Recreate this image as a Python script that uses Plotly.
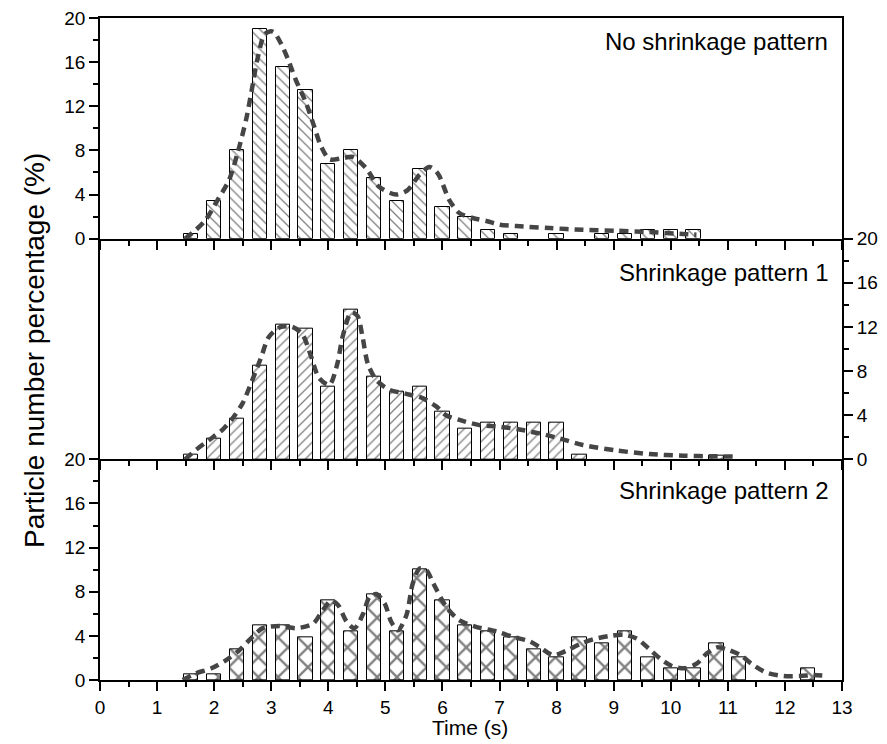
import plotly.graph_objects as go

# ---------------- data ----------------
panel_labels = ["No shrinkage pattern", "Shrinkage pattern 1", "Shrinkage pattern 2"]

t_none = [1.6, 2.0, 2.4, 2.8, 3.2, 3.6, 4.0, 4.4, 4.8, 5.2, 5.6, 6.0, 6.4, 6.8, 7.2,
          8.0, 8.8, 9.2, 9.6, 10.0, 10.4]
v_none = [0.4, 3.4, 8.0, 19.0, 15.6, 13.5, 6.8, 8.0, 5.5, 3.4, 6.3, 2.9, 2.0, 0.8, 0.4,
          0.4, 0.4, 0.4, 0.8, 0.8, 0.8]

t_p1 = [1.6, 2.0, 2.4, 2.8, 3.2, 3.6, 4.0, 4.4, 4.8, 5.2, 5.6, 6.0, 6.4, 6.8, 7.2,
        7.6, 8.0, 8.4, 10.8]
v_p1 = [0.4, 1.9, 3.7, 8.5, 12.2, 11.8, 6.6, 13.6, 7.5, 6.1, 6.6, 4.3, 2.8, 3.3, 3.3,
        3.3, 3.3, 0.4, 0.3]

t_p2 = [1.6, 2.0, 2.4, 2.8, 3.2, 3.6, 4.0, 4.4, 4.8, 5.2, 5.6, 6.0, 6.4, 6.8, 7.2,
        7.6, 8.0, 8.4, 8.8, 9.2, 9.6, 10.0, 10.4, 10.8, 11.2, 12.4]
v_p2 = [0.5, 0.5, 2.8, 5.0, 5.0, 3.9, 7.2, 4.4, 7.8, 4.4, 10.0, 7.2, 5.0, 4.4, 3.9,
        2.8, 2.1, 3.9, 3.3, 4.4, 2.1, 1.1, 1.1, 3.3, 2.1, 1.1]

# fitted (dashed) curves
cx_none = [1.49, 1.68, 1.85, 2.06, 2.26, 2.41, 2.56, 2.67, 2.76, 2.88, 2.99, 3.05, 3.17,
           3.29, 3.43, 3.61, 3.75, 3.87, 4.02, 4.25, 4.43, 4.66, 4.89, 5.19, 5.39, 5.6,
           5.77, 5.92, 6.12, 6.3, 6.53, 6.77, 7.0, 7.29, 7.88, 8.46, 9.05, 9.63, 10.22, 10.45]
cy_none = [0.0, 0.8, 1.7, 3.5, 5.3, 7.75, 10.8, 13.8, 16.3, 18.5, 18.8, 18.7, 17.7,
           16.3, 14.4, 12.3, 10.2, 8.4, 7.2, 7.3, 7.4, 6.4, 4.7, 4.0, 4.4, 5.8,
           6.5, 5.9, 3.5, 2.3, 1.87, 1.6, 1.27, 1.14, 0.96, 0.8, 0.72, 0.6, 0.42, 0.36]

cx_p1 = [1.49, 1.68, 1.91, 2.15, 2.32, 2.5, 2.67, 2.82, 2.96, 3.17, 3.37, 3.55, 3.7, 3.84,
         4.02, 4.16, 4.25, 4.4, 4.51, 4.6, 4.69, 4.84, 5.07, 5.35, 5.65, 5.89, 6.06, 6.3,
         6.65, 7.0, 7.35, 7.7, 8.05, 8.46, 9.05, 9.63, 10.22, 10.8, 11.18]
cy_p1 = [0.0, 0.85, 1.75, 2.7, 3.7, 5.1, 7.2, 9.2, 11.1, 12.0, 12.0, 11.3, 9.3, 7.35,
         6.75, 8.7, 11.1, 13.3, 13.0, 11.1, 8.7, 7.2, 6.3, 5.95, 5.55, 4.8, 4.0, 3.57,
         3.1, 2.96, 2.7, 2.35, 1.9, 1.3, 0.8, 0.48, 0.33, 0.27, 0.24]

cx_p2 = [1.45, 1.68, 1.95, 2.21, 2.44, 2.65, 2.85, 3.15, 3.44, 3.73, 3.9, 4.05, 4.17, 4.32,
         4.46, 4.61, 4.72, 4.84, 4.99, 5.1, 5.22, 5.37, 5.48, 5.6, 5.72, 5.84, 6.07, 6.3,
         6.6, 6.95, 7.24, 7.53, 7.71, 7.94, 8.17, 8.41, 8.64, 8.94, 9.17, 9.4, 9.61, 9.81,
         10.02, 10.25, 10.46, 10.63, 10.81, 10.98, 11.22, 11.42, 11.68, 11.98, 12.27, 12.5, 12.74]
cy_p2 = [0.0, 0.6, 1.06, 1.8, 2.7, 3.8, 4.7, 4.9, 4.7, 5.1, 6.3, 7.2, 6.8, 5.3,
         4.7, 6.0, 7.5, 7.8, 6.9, 5.3, 4.5, 5.9, 8.75, 10.1, 9.95, 8.75, 6.6, 5.4,
         4.8, 4.4, 3.9, 3.5, 2.95, 2.26, 2.65, 3.26, 3.68, 4.0, 4.1, 3.77, 2.87, 1.96,
         1.27, 1.06, 1.5, 2.4, 2.96, 2.78, 2.26, 1.45, 0.66, 0.36, 0.36, 0.45, 0.36]

x_ticks = list(range(0, 14))
y_ticks = [0, 4, 8, 12, 16, 20]

# ---------------- figure ----------------
FONT = "Liberation Sans, Arial, sans-serif"
CURVE = "#454545"
fig = go.Figure()

series = [
    (t_none, v_none, cx_none, cy_none, "\\", 7, 0.18, "x", "y"),
    (t_p1, v_p1, cx_p1, cy_p1, "/", 7, 0.18, "x2", "y2"),
    (t_p2, v_p2, cx_p2, cy_p2, "x", 14, 0.3, "x3", "y3"),
]
for tx, tv, cx, cy, shp, psize, sol, xa, ya in series:
    fig.add_trace(go.Bar(
        x=tx, y=tv, width=0.25, xaxis=xa, yaxis=ya,
        marker=dict(color="white", line=dict(color="black", width=1),
                    pattern=dict(shape=shp, size=psize, solidity=sol,
                                 fgcolor="black", bgcolor="white", fillmode="overlay")),
        showlegend=False, hoverinfo="skip"))
    fig.add_trace(go.Scatter(
        x=cx, y=cy, mode="lines", xaxis=xa, yaxis=ya,
        line=dict(color=CURVE, width=4.5, dash="9px,6px", shape="spline", smoothing=0.8),
        showlegend=False, hoverinfo="skip"))

tickfont = dict(family=FONT, size=19, color="black")
common_x = dict(range=[0, 13], showgrid=False, zeroline=False, showline=True,
                linecolor="black", linewidth=1.8, ticks="outside", ticklen=9,
                tickwidth=1.6, tickcolor="black", tickvals=x_ticks, automargin=False,
                ticklabeloverflow="allow",
                minor=dict(dtick=0.5, tick0=0, ticks="outside", ticklen=5,
                           tickwidth=1.6, tickcolor="black"),
                tickfont=tickfont)
common_y = dict(range=[0, 20], showgrid=False, zeroline=False, showline=True,
                linecolor="black", linewidth=1.8, ticks="outside", ticklen=9,
                tickwidth=1.6, tickcolor="black", tickvals=y_ticks, mirror=True,
                automargin=False, ticklabeloverflow="allow",
                minor=dict(dtick=2, tick0=0, ticks="outside", ticklen=5,
                           tickwidth=1.6, tickcolor="black"),
                tickfont=tickfont)

fig.update_layout(
    width=887, height=744,
    margin=dict(l=100, r=45, t=18, b=64, autoexpand=False),
    paper_bgcolor="white", plot_bgcolor="white",
    barmode="overlay", bargap=0,
    xaxis=dict(**common_x, anchor="y", domain=[0, 1], showticklabels=False, mirror=True),
    xaxis2=dict(**common_x, anchor="y2", domain=[0, 1], showticklabels=False, matches="x"),
    xaxis3=dict(**common_x, anchor="y3", domain=[0, 1], showticklabels=True, matches="x"),
    yaxis=dict(**common_y, anchor="x", domain=[2 / 3, 1]),
    yaxis2=dict(**common_y, anchor="x2", domain=[1 / 3, 2 / 3], side="right"),
    yaxis3=dict(**common_y, anchor="x3", domain=[0, 1 / 3]),
    font=dict(family=FONT, color="black"),
)

ann_y = [0.964, 0.616, 0.287]
for lbl, yy in zip(panel_labels, ann_y):
    fig.add_annotation(text=lbl, xref="paper", yref="paper", x=0.984, y=yy,
                       xanchor="right", yanchor="middle", showarrow=False,
                       font=dict(family=FONT, size=24, color="black"))

fig.add_annotation(text="Particle number percentage (%)", xref="paper", yref="paper",
                   x=-0.0876, y=0.497, textangle=-90, xanchor="center", yanchor="middle",
                   showarrow=False, font=dict(family=FONT, size=28, color="black"))
fig.add_annotation(text="Time (s)", xref="paper", yref="paper",
                   x=0.499, y=-0.0725, xanchor="center", yanchor="middle",
                   showarrow=False, font=dict(family=FONT, size=21, color="black"))

# remove the default 8px page margin so the figure sits at the window's top-left corner
fig.write_html(
    "out.html",
    config={"displayModeBar": False},
    post_script="document.body.style.margin='0px';document.body.style.overflow='hidden';",
)
